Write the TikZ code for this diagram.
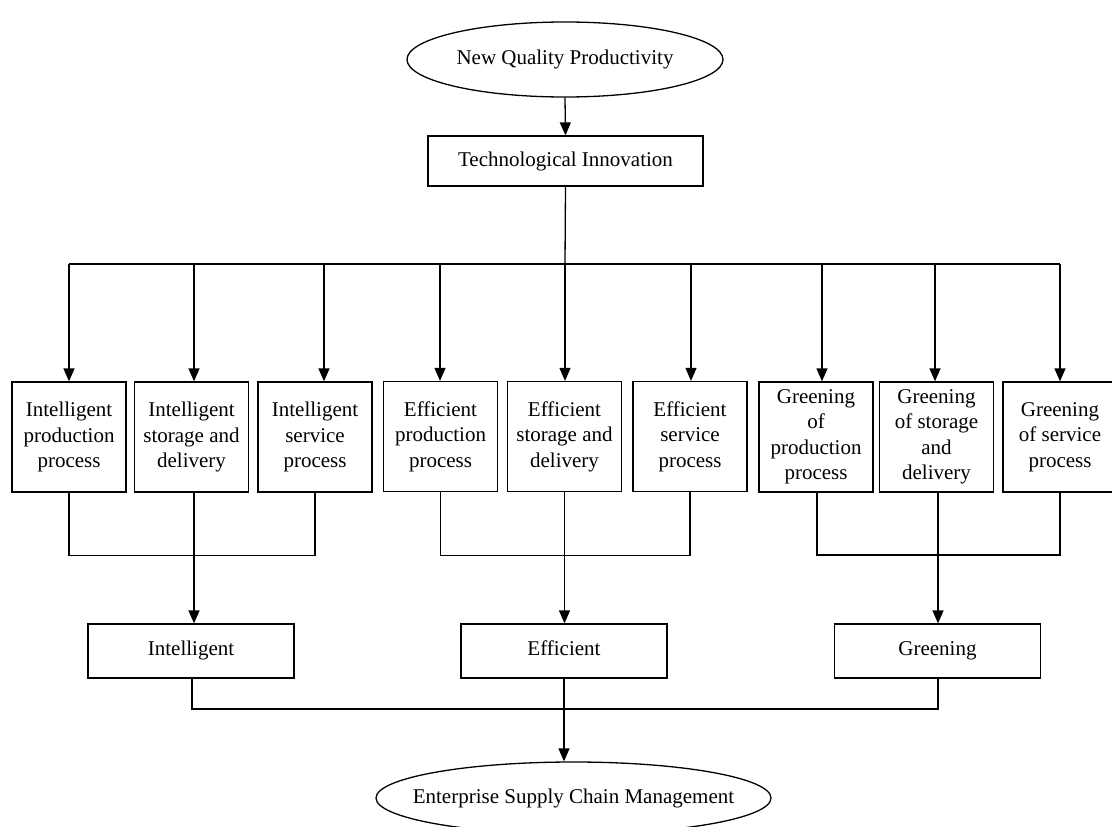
\documentclass[tikz,border=0pt]{standalone}
\usepackage{fontspec}
\setmainfont{Liberation Serif}
\usetikzlibrary{arrows.meta,shapes.geometric}
\begin{document}
\begin{tikzpicture}[x=1pt,y=-1pt,
  every node/.style={font=\fontsize{21}{25.5}\selectfont, line width=1.3pt},
  ell/.style={draw, ellipse, inner sep=0pt},
  bx/.style={draw, rectangle, minimum width=114pt, minimum height=110pt, align=center, inner sep=2pt},
  wide/.style={draw, rectangle, minimum width=206pt, minimum height=54pt, inner sep=0pt, text height=14pt, text depth=5pt},
  ln/.style={line width=1.3pt},
  arr/.style={line width=1.3pt, -{Triangle[width=11pt,length=13pt]}}]
\useasboundingbox (0,0) rectangle (1112,827);
\fill[white] (0,0) rectangle (1112,827);

\node[ell, minimum width=316pt, minimum height=75pt] (nqp) at (565,59.5) {New Quality Productivity};
\node[draw, rectangle, minimum width=275pt, minimum height=50pt, inner sep=0pt] (ti) at (565.5,161) {Technological Innovation};

\node[bx] (b1) at (69,437) {Intelligent\\production\\process};
\node[bx] (b2) at (191.5,437) {Intelligent\\storage and\\delivery};
\node[bx] (b3) at (315,437) {Intelligent\\service\\process};
\node[bx] (b4) at (440.5,436.5) {Efficient\\production\\process};
\node[bx] (b5) at (564.5,436.5) {Efficient\\storage and\\delivery};
\node[bx] (b6) at (690,436.5) {Efficient\\service\\process};
\node[bx] (b7) at (816,437) {Greening\\of\\production\\process};
\node[bx] (b8) at (936.5,437) {Greening\\of storage\\and\\delivery};
\node[bx] (b9) at (1060,437) {Greening\\of service\\process};

\node[wide] (int) at (191,651) {Intelligent};
\node[wide] (eff) at (564,651) {Efficient};
\node[wide] (gre) at (937.5,651) {Greening};

\node[ell, minimum width=395pt, minimum height=72pt, label=center:{Enterprise Supply Chain Management}] (escm) at (573.5,798) {};

% top
\draw[arr] (nqp.south) -- (ti.north);
\coordinate (bc) at (565,264);
\coordinate (t1) at (69,264);
\coordinate (t2) at (194,264);
\coordinate (t3) at (324,264);
\coordinate (t4) at (440,264);
\coordinate (t5) at (565,264);
\coordinate (t6) at (691,264);
\coordinate (t7) at (822,264);
\coordinate (t8) at (935,264);
\coordinate (t9) at (1060,264);
\draw[ln] (ti.south) -- (bc);
\draw[ln] (t1) -- (t9);
\foreach \i in {1,...,9} {
  \draw[arr] (t\i) -- (t\i |- b\i.north);
}

% groups
\draw[ln] (b1.south) -- ++(0,63) -| (b3.south);
\draw[arr] (194,492) coordinate (s2) -- (s2 |- int.north);
\draw[ln] (b4.south) -- ++(0,63) -| (b6.south);
\draw[arr] (b5.south) -- (b5.south |- eff.north);
\draw[ln] (817,492) coordinate (s7) -- ++(0,63) -| (b9.south);
\draw[arr] (938,492) coordinate (s8) -- (s8 |- gre.north);

% bottom
\draw[ln] (int.south -| 192,0) -- (192,709) -| (gre.south -| 938,0);
\draw[arr] (eff.south) -- (eff.south |- escm.north);
\end{tikzpicture}
\end{document}
